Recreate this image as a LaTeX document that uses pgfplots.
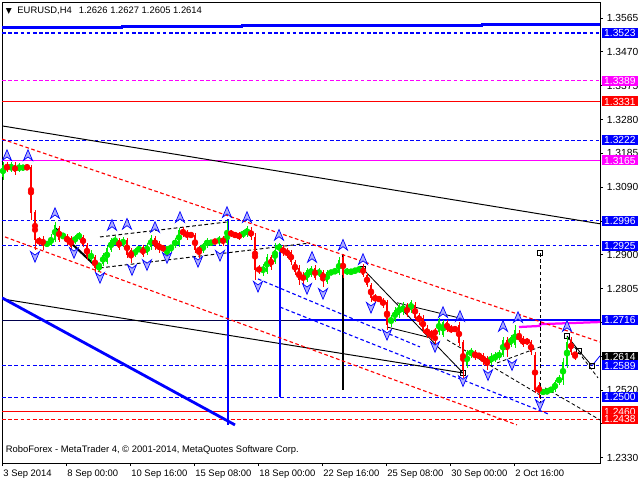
\documentclass[border=0pt]{standalone}
\usepackage{pgfplots}
\usepackage{pgfplotstable}
\pgfplotsset{compat=1.18}
\usepackage{fontspec}
\setmainfont{Liberation Sans}
\newfontfamily\symfont{DejaVu Sans}

\definecolor{mtblue}{RGB}{0,0,255}
\definecolor{mtmag}{RGB}{255,0,255}
\definecolor{mtred}{RGB}{255,0,0}
\definecolor{bull}{RGB}{0,235,0}
\definecolor{arrowfill}{RGB}{175,175,255}

% fractal arrow mark
\pgfdeclareplotmark{chev}{%
  \pgfpathmoveto{\pgfpoint{0pt}{\pgfplotmarksize}}%
  \pgfpathlineto{\pgfpoint{0.85\pgfplotmarksize}{-\pgfplotmarksize}}%
  \pgfpathlineto{\pgfpoint{0pt}{-0.35\pgfplotmarksize}}%
  \pgfpathlineto{\pgfpoint{-0.85\pgfplotmarksize}{-\pgfplotmarksize}}%
  \pgfpathclose\pgfusepathqfillstroke}

% EURUSD H4 candles: x position, open, high, low, close
\pgfplotstableread{
x o h l c
3 1.3119 1.3161 1.3110 1.3152
7 1.3152 1.3161 1.3133 1.3138
11 1.3138 1.3161 1.3133 1.3152
15 1.3152 1.3161 1.3124 1.3133
19 1.3138 1.3158 1.3133 1.3149
23 1.3144 1.3152 1.3138 1.3145
27 1.3149 1.3155 1.3138 1.3141
31 1.3147 1.3152 1.2998 1.3017
35 1.3020 1.3026 1.2914 1.2942
39 1.2942 1.2950 1.2928 1.2933
43 1.2944 1.2953 1.2914 1.2928
47 1.2930 1.2936 1.2925 1.2931
51 1.2928 1.2958 1.2925 1.2950
55 1.2942 1.2992 1.2936 1.2984
59 1.2975 1.2981 1.2936 1.2942
63 1.2950 1.2961 1.2947 1.2954
67 1.2953 1.2958 1.2928 1.2936
71 1.2947 1.2953 1.2914 1.2922
75 1.2936 1.2956 1.2930 1.2950
79 1.2947 1.2964 1.2942 1.2958
83 1.2950 1.2956 1.2922 1.2928
87 1.2928 1.2933 1.2885 1.2894
91 1.2891 1.2914 1.2880 1.2899
95 1.2894 1.2899 1.2852 1.2863
99 1.2869 1.2877 1.2852 1.2871
103 1.2874 1.2905 1.2869 1.2899
107 1.2880 1.2925 1.2874 1.2919
111 1.2914 1.2947 1.2908 1.2942
115 1.2933 1.2953 1.2928 1.2939
119 1.2942 1.2947 1.2914 1.2919
123 1.2928 1.2950 1.2922 1.2942
127 1.2942 1.2947 1.2891 1.2899
131 1.2914 1.2919 1.2877 1.2891
135 1.2899 1.2919 1.2894 1.2914
139 1.2914 1.2922 1.2908 1.2919
143 1.2922 1.2928 1.2894 1.2899
147 1.2905 1.2933 1.2899 1.2928
151 1.2922 1.2956 1.2914 1.2947
155 1.2947 1.2953 1.2914 1.2922
159 1.2933 1.2939 1.2905 1.2914
163 1.2922 1.2928 1.2908 1.2914
167 1.2916 1.2922 1.2894 1.2917
171 1.2916 1.2928 1.2908 1.2925
175 1.2925 1.2947 1.2919 1.2942
179 1.2928 1.2975 1.2922 1.2970
183 1.2970 1.2978 1.2950 1.2956
187 1.2964 1.2970 1.2942 1.2950
191 1.2956 1.2961 1.2950 1.2955
195 1.2956 1.2961 1.2905 1.2914
199 1.2919 1.2925 1.2891 1.2908
203 1.2914 1.2933 1.2905 1.2928
207 1.2925 1.2947 1.2919 1.2942
211 1.2930 1.2942 1.2925 1.2939
215 1.2939 1.2945 1.2930 1.2935
219 1.2933 1.2953 1.2928 1.2947
223 1.2947 1.2953 1.2925 1.2933
227 1.2933 1.2995 1.2928 1.2964
231 1.2964 1.2970 1.2950 1.2956
235 1.2961 1.2964 1.2947 1.2950
239 1.2958 1.2964 1.2942 1.2947
243 1.2953 1.2970 1.2947 1.2964
247 1.2956 1.2981 1.2950 1.2975
251 1.2970 1.2978 1.2942 1.2950
255 1.2950 1.2961 1.2829 1.2857
259 1.2863 1.2871 1.2846 1.2855
263 1.2852 1.2874 1.2840 1.2866
267 1.2852 1.2902 1.2846 1.2894
271 1.2894 1.2899 1.2857 1.2866
275 1.2880 1.2933 1.2874 1.2914
279 1.2914 1.2933 1.2908 1.2928
283 1.2919 1.2928 1.2897 1.2905
287 1.2914 1.2919 1.2891 1.2899
291 1.2908 1.2914 1.2871 1.2880
295 1.2880 1.2885 1.2843 1.2852
299 1.2863 1.2871 1.2815 1.2829
303 1.2843 1.2852 1.2818 1.2829
307 1.2829 1.2863 1.2824 1.2857
311 1.2843 1.2869 1.2838 1.2863
315 1.2863 1.2871 1.2829 1.2835
319 1.2843 1.2863 1.2838 1.2857
323 1.2852 1.2857 1.2810 1.2829
327 1.2824 1.2857 1.2818 1.2852
331 1.2849 1.2855 1.2845 1.2852
335 1.2849 1.2863 1.2846 1.2857
339 1.2849 1.2894 1.2843 1.2885
343 1.2894 1.2902 1.2835 1.2843
347 1.2849 1.2863 1.2843 1.2857
351 1.2852 1.2857 1.2846 1.2854
355 1.2852 1.2863 1.2849 1.2857
359 1.2852 1.2869 1.2849 1.2866
363 1.2866 1.2874 1.2838 1.2843
367 1.2843 1.2849 1.2810 1.2815
371 1.2815 1.2821 1.2767 1.2779
375 1.2784 1.2790 1.2765 1.2773
379 1.2779 1.2784 1.2767 1.2773
383 1.2773 1.2779 1.2751 1.2759
387 1.2767 1.2773 1.2689 1.2703
391 1.2711 1.2731 1.2697 1.2722
395 1.2717 1.2753 1.2711 1.2745
399 1.2731 1.2765 1.2722 1.2759
403 1.2739 1.2767 1.2731 1.2759
407 1.2759 1.2765 1.2725 1.2731
411 1.2745 1.2773 1.2736 1.2767
415 1.2759 1.2767 1.2717 1.2722
419 1.2731 1.2736 1.2703 1.2711
423 1.2722 1.2731 1.2680 1.2689
427 1.2694 1.2703 1.2666 1.2675
431 1.2683 1.2689 1.2661 1.2672
435 1.2689 1.2694 1.2638 1.2675
439 1.2683 1.2722 1.2675 1.2717
443 1.2675 1.2717 1.2669 1.2711
447 1.2711 1.2717 1.2683 1.2689
451 1.2697 1.2703 1.2680 1.2683
455 1.2692 1.2697 1.2686 1.2690
459 1.2703 1.2711 1.2644 1.2652
463 1.2655 1.2661 1.2554 1.2576
467 1.2590 1.2632 1.2582 1.2627
471 1.2618 1.2638 1.2610 1.2632
475 1.2627 1.2632 1.2604 1.2613
479 1.2618 1.2624 1.2610 1.2613
483 1.2618 1.2624 1.2590 1.2599
487 1.2610 1.2616 1.2576 1.2590
491 1.2596 1.2624 1.2590 1.2616
495 1.2604 1.2627 1.2599 1.2618
499 1.2610 1.2632 1.2604 1.2627
503 1.2618 1.2669 1.2613 1.2661
507 1.2661 1.2669 1.2613 1.2632
511 1.2647 1.2675 1.2641 1.2669
515 1.2647 1.2703 1.2638 1.2689
519 1.2675 1.2689 1.2655 1.2661
523 1.2666 1.2672 1.2641 1.2647
527 1.2661 1.2666 1.2647 1.2652
531 1.2655 1.2661 1.2618 1.2627
535 1.2618 1.2627 1.2512 1.2520
539 1.2534 1.2543 1.2498 1.2512
543 1.2514 1.2520 1.2509 1.2515
547 1.2514 1.2522 1.2509 1.2520
551 1.2517 1.2529 1.2512 1.2526
555 1.2520 1.2548 1.2514 1.2543
559 1.2543 1.2562 1.2534 1.2554
563 1.2548 1.2610 1.2534 1.2599
567 1.2590 1.2669 1.2582 1.2655
571 1.2661 1.2669 1.2618 1.2627
575 1.2626 1.2627 1.2605 1.2614
}\candles

\pgfplotstableread{
x y
7 1.3180
28 1.3180
55 1.3017
112 1.2984
127 1.2987
155 1.2978
180 1.3006
227 1.3020
247 1.3006
279 1.2956
312 1.2894
343 1.2928
363 1.2888
443 1.2739
460 1.2728
503 1.2700
518 1.2725
567 1.2700
}\upfr

\pgfplotstableread{
x y
35 1.2894
74 1.2905
100 1.2835
132 1.2857
147 1.2871
167 1.2891
198 1.2880
220 1.2897
258 1.2810
307 1.2804
323 1.2790
371 1.2751
387 1.2675
435 1.2641
463 1.2545
488 1.2562
512 1.2590
540 1.2478
}\dnfr

\begin{document}
\begin{tikzpicture}
\useasboundingbox (0,0) rectangle (16cm,12cm);
\begin{axis}[
    at={(0.05cm,0.425cm)}, anchor=south west,
    width=14.95cm, height=11.525cm, scale only axis,
    xmin=2, xmax=600, ymin=1.2315, ymax=1.3610,
    clip mode=individual,
    axis line style={black, line width=0.7pt},
    tick align=outside, major tick length=2.2pt,
    tick style={black, line width=0.5pt},
    xtick pos=lower, ytick pos=right, yticklabel pos=right,
    xtick={2,66,130,194,258,322,386,450,514},
    xticklabels={3 Sep 2014, 8 Sep 00:00, 10 Sep 16:00, 15 Sep 08:00, 18 Sep 00:00, 22 Sep 16:00, 25 Sep 08:00, 30 Sep 00:00, 2 Oct 16:00},
    xticklabel style={anchor=north west, inner sep=0pt, xshift=0.8pt, yshift=-2.5pt, font=\fontsize{6.7}{8}\selectfont},
    ytick={1.2330,1.2425,1.2520,1.2615,1.2710,1.2805,1.2900,1.2995,1.3090,1.3185,1.3280,1.3375,1.3470,1.3565},
    yticklabels={1.2330,,1.2520,,,1.2805,1.2900,,1.3090,1.3185,1.3280,1.3375,1.3470,1.3565},
    yticklabel style={anchor=west, inner sep=0pt, xshift=2.5pt, font=\fontsize{7.3}{9}\selectfont},
    every axis plot/.append style={dash pattern=on 2.6pt off 1.8pt},
]
% horizontal levels
\addplot[mtblue, solid, line width=2pt] coordinates {(2,1.3538) (122,1.3538) (122,1.3541) (242,1.3541) (242,1.3544) (482,1.3544) (482,1.3546) (600,1.3546)};
\addplot[mtblue, line width=0.8pt] coordinates {(2,1.3523) (600,1.3523)};
\addplot[mtmag, line width=0.8pt] coordinates {(2,1.3389) (600,1.3389)};
\addplot[mtred, solid, line width=0.8pt] coordinates {(2,1.3331) (600,1.3331)};
\addplot[mtblue, line width=0.8pt] coordinates {(2,1.3222) (600,1.3222)};
\addplot[mtmag, solid, line width=0.9pt] coordinates {(2,1.3165) (600,1.3165)};
\addplot[mtblue, line width=0.8pt] coordinates {(2,1.2996) (600,1.2996)};
\addplot[mtblue, line width=0.8pt] coordinates {(2,1.2925) (600,1.2925)};
\addplot[black!70!mtblue, solid, line width=0.7pt] coordinates {(2,1.2716) (300,1.2716)};
\addplot[mtblue, solid, line width=1.4pt] coordinates {(300,1.2716) (600,1.2716)};
\addplot[mtblue, line width=0.8pt] coordinates {(2,1.2589) (600,1.2589)};
\addplot[mtblue, line width=0.8pt] coordinates {(2,1.2500) (600,1.2500)};
\addplot[mtred, solid, line width=0.8pt] coordinates {(2,1.2460) (600,1.2460)};
\addplot[mtred, line width=0.8pt] coordinates {(2,1.2438) (600,1.2438)};
\addplot[mtmag, solid, line width=1.6pt] coordinates {(519,1.2697) (540,1.2700) (540,1.2705) (600,1.2711)};
% trend lines and channels
\addplot[black, solid, line width=0.7pt] coordinates {(2,1.3262) (600,1.2987)};
\addplot[black, solid, line width=0.7pt] coordinates {(2,1.2776) (463,1.2568)};
\addplot[black, solid, line width=1.5pt] coordinates {(55,1.2975) (100,1.2857)};
\addplot[mtblue, solid, line width=2pt] coordinates {(2,1.2779) (235,1.2422)};
\addplot[mtblue, solid, line width=2pt] coordinates {(228,1.3000) (228,1.2422)};
\addplot[mtblue, solid, line width=0.8pt] coordinates {(280,1.2930) (280,1.2500)};
\addplot[black, solid, line width=0.8pt] coordinates {(343,1.2899) (343,1.2520)};
\addplot[black, line width=0.7pt] coordinates {(540,1.2905) (540,1.2478)};
\addplot[mtred, line width=0.8pt] coordinates {(2,1.3225) (600,1.2655)};
\addplot[mtred, line width=0.8pt] coordinates {(5,1.2950) (517,1.2422)};
\addplot[mtblue, line width=0.8pt] coordinates {(280,1.2753) (548,1.2453)};
\addplot[mtblue, line width=0.8pt] coordinates {(258,1.2832) (420,1.2641)};
\addplot[black, line width=0.7pt] coordinates {(100,1.2863) (310,1.2933)};
\addplot[black, line width=0.7pt] coordinates {(100,1.2950) (227,1.2992)};
\addplot[black, solid, line width=0.6pt] coordinates {(363,1.2860) (463,1.2568)};
\addplot[black, solid, line width=0.6pt] coordinates {(397,1.2765) (460,1.2722)};
\addplot[black, solid, line width=0.6pt] coordinates {(387,1.2697) (427,1.2669)};
\addplot[black, line width=0.6pt] coordinates {(447,1.2661) (540,1.2506)};
\addplot[black, line width=0.6pt] coordinates {(497,1.2596) (540,1.2641)};
\addplot[black, line width=0.6pt] coordinates {(545,1.2526) (600,1.2436)};
\addplot[black, line width=0.6pt] coordinates {(567,1.2669) (598,1.2554)};
\addplot[black, solid, line width=0.6pt] coordinates {(567,1.2672) (579,1.2630) (592,1.2588)};
\addplot[mtblue, solid, line width=0.6pt] coordinates {(592,1.2588) (600,1.2616)};
\addplot[black, solid, only marks, mark=square, mark size=2pt, line width=0.6pt] coordinates {(363,1.2860) (463,1.2568) (567,1.2672) (579,1.2630) (592,1.2588) (540,1.2905)};
% candles: wicks then bodies
\addplot[bull, solid, only marks, mark=none, error bars/.cd, y dir=both, y explicit, error mark=none,
    error bar style={solid, line width=0.7pt, color=bull}]
  table[x=x, y expr={(\thisrow{h}+\thisrow{l})/2}, y error expr={(\thisrow{h}-\thisrow{l})/2},
        restrict expr to domain={\thisrow{c}-\thisrow{o}}{0:1}] {\candles};
\addplot[mtred, solid, only marks, mark=none, error bars/.cd, y dir=both, y explicit, error mark=none,
    error bar style={solid, line width=0.7pt, color=mtred}]
  table[x=x, y expr={(\thisrow{h}+\thisrow{l})/2}, y error expr={(\thisrow{h}-\thisrow{l})/2},
        restrict expr to domain={\thisrow{c}-\thisrow{o}}{-1:0}] {\candles};
\addplot[bull, solid, only marks, mark=none, error bars/.cd, y dir=both, y explicit, error mark=none,
    error bar style={solid, line width=2.1pt, color=bull}]
  table[x=x, y expr={(\thisrow{o}+\thisrow{c})/2}, y error expr={max(abs(\thisrow{c}-\thisrow{o})/2,0.00012)},
        restrict expr to domain={\thisrow{c}-\thisrow{o}}{0:1}] {\candles};
\addplot[mtred, solid, only marks, mark=none, error bars/.cd, y dir=both, y explicit, error mark=none,
    error bar style={solid, line width=2.1pt, color=mtred}]
  table[x=x, y expr={(\thisrow{o}+\thisrow{c})/2}, y error expr={max(abs(\thisrow{c}-\thisrow{o})/2,0.00012)},
        restrict expr to domain={\thisrow{c}-\thisrow{o}}{-1:0}] {\candles};
% fractals
\addplot[only marks, mark=chev, mark size=3.8pt, mark options={solid, draw=mtblue, fill=arrowfill, line width=0.5pt}] table[x=x, y=y] {\upfr};
\addplot[only marks, mark=chev, mark size=3.8pt, mark options={solid, draw=mtblue, fill=arrowfill, line width=0.5pt, rotate=180}] table[x=x, y=y] {\dnfr};
% texts
\node[anchor=west, inner sep=0pt, font=\fontsize{6.7}{8}\selectfont] at (rel axis cs:0.006,0.981)
  {{\symfont\fontsize{5.5}{7}\selectfont ▼}\hspace{4pt}EURUSD,H4\hspace{5pt}1.2626 1.2627 1.2605 1.2614};
\node[anchor=west, inner sep=0pt, font=\fontsize{6.7}{8}\selectfont] at (rel axis cs:0.006,0.029)
  {RoboForex - MetaTrader 4, © 2001-2014, MetaQuotes Software Corp.};
% price level tags
\tikzset{tag/.style={anchor=west, inner xsep=1.6pt, inner ysep=0.9pt, text height=5.3pt, text depth=0pt, text=white, font=\fontsize{7.3}{9}\selectfont, xshift=1.2pt}}
\node[tag, fill=mtblue] at (axis cs:600,1.3523) {1.3523};
\node[tag, fill=mtmag] at (axis cs:600,1.3389) {1.3389};
\node[tag, fill=mtred] at (axis cs:600,1.3331) {1.3331};
\node[tag, fill=mtblue] at (axis cs:600,1.3222) {1.3222};
\node[tag, fill=mtmag] at (axis cs:600,1.3165) {1.3165};
\node[tag, fill=mtblue] at (axis cs:600,1.2996) {1.2996};
\node[tag, fill=mtblue] at (axis cs:600,1.2925) {1.2925};
\node[tag, fill=mtblue] at (axis cs:600,1.2716) {1.2716};
\node[tag, fill=black] at (axis cs:600,1.2614) {1.2614};
\node[tag, fill=mtblue] at (axis cs:600,1.2589) {1.2589};
\node[tag, fill=mtblue] at (axis cs:600,1.2500) {1.2500};
\node[tag, fill=mtred] at (axis cs:600,1.2460) {1.2460};
\node[tag, fill=mtred] at (axis cs:600,1.2438) {1.2438};
\end{axis}
\end{tikzpicture}
\end{document}
